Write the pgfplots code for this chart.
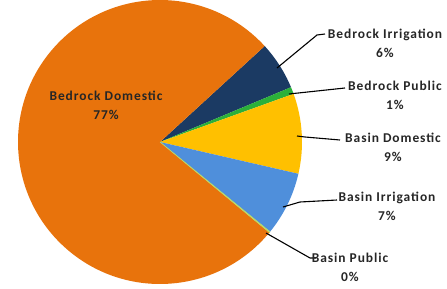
\documentclass[border=0pt]{standalone}
\usepackage{pgfplots}
\usepackage{pgfplotstable}
\pgfplotsset{compat=1.18}
\usepackage{fontspec}
\setmainfont{Carlito}
\newfontfamily\labfont[LetterSpace=7]{Carlito}
\definecolor{cOrange}{HTML}{E8730C}
\definecolor{cNavy}{HTML}{1B3A63}
\definecolor{cGreen}{HTML}{2BB03A}
\definecolor{cYellow}{HTML}{FFC000}
\definecolor{cBlue}{HTML}{4F8FDB}
\definecolor{cLime}{HTML}{B8D86A}
\definecolor{cText}{HTML}{262626}
\pgfplotstableread{
name value
BedrockIrrigation 5.5
BedrockPublic 0.8
BasinDomestic 9.1
BasinIrrigation 7.3
BasinPublic 0.1
BedrockDomestic 77.2
}\piedata
\begin{document}
\begin{tikzpicture}
\pgfplotstablegetelem{0}{value}\of\piedata \pgfmathsetmacro\vA{\pgfplotsretval}
\pgfplotstablegetelem{1}{value}\of\piedata \pgfmathsetmacro\vB{\pgfplotsretval}
\pgfplotstablegetelem{2}{value}\of\piedata \pgfmathsetmacro\vC{\pgfplotsretval}
\pgfplotstablegetelem{3}{value}\of\piedata \pgfmathsetmacro\vD{\pgfplotsretval}
\pgfplotstablegetelem{4}{value}\of\piedata \pgfmathsetmacro\vE{\pgfplotsretval}
\pgfplotstablegetelem{5}{value}\of\piedata \pgfmathsetmacro\vF{\pgfplotsretval}
\pgfmathsetmacro\aA{42.5}
\pgfmathsetmacro\aB{\aA-3.6*\vA}
\pgfmathsetmacro\aC{\aB-3.6*\vB}
\pgfmathsetmacro\aD{\aC-3.6*\vC}
\pgfmathsetmacro\aE{\aD-3.6*\vD}
\pgfmathsetmacro\aF{\aE-3.6*\vE}
\pgfmathsetmacro\aG{\aF-3.6*\vF}
\begin{axis}[
  name=ax,
  width=447bp, height=289bp, scale only axis,
  xmin=0, xmax=447, ymin=0, ymax=289,
  hide axis, clip=false,
]
\def\R{142bp}
\fill[cNavy] (axis cs:160,147) -- ++(\aA:\R) arc[start angle=\aA, end angle=\aB, radius=\R] -- cycle;
\fill[cGreen] (axis cs:160,147) -- ++(\aB:\R) arc[start angle=\aB, end angle=\aC, radius=\R] -- cycle;
\fill[cYellow] (axis cs:160,147) -- ++(\aC:\R) arc[start angle=\aC, end angle=\aD, radius=\R] -- cycle;
\fill[cBlue] (axis cs:160,147) -- ++(\aD:\R) arc[start angle=\aD, end angle=\aE, radius=\R] -- cycle;
\fill[cOrange] (axis cs:160,147) -- ++(\aF:\R) arc[start angle=\aF, end angle=\aG, radius=\R] -- cycle;
\filldraw[cLime, line width=0.6pt] (axis cs:160,147) -- ++(\aE:\R) arc[start angle=\aE, end angle=\aF, radius=\R] -- cycle;
% leader lines
\draw[black, line width=1.1pt] (axis cs:277,221) -- (axis cs:317,254) -- (axis cs:325,255);
\draw[black, line width=1.1pt] (axis cs:289,195) -- (axis cs:345,201);
\draw[black, line width=1.1pt] (axis cs:297,153) -- (axis cs:305,152) -- (axis cs:340,149);
\draw[black, line width=1.1pt] (axis cs:283,82) -- (axis cs:300,87) -- (axis cs:337,89);
\draw[black, line width=1.1pt] (axis cs:266,56) -- (axis cs:310,31) -- (axis cs:316,31);
% labels
\tikzset{lab/.style={align=center, text=cText, font=\labfont\fontsize{13.5}{19}\selectfont\bfseries, inner sep=0pt}}
\node[lab] at (axis cs:385,246) {Bedrock Irrigation\\6\%};
\node[lab] at (axis cs:395,194) {Bedrock Public\\1\%};
\node[lab] at (axis cs:393,142) {Basin Domestic\\9\%};
\node[lab] at (axis cs:387,83) {Basin Irrigation\\7\%};
\node[lab] at (axis cs:350,22) {Basin Public\\0\%};
\node[lab] at (axis cs:106,184) {Bedrock Domestic\\77\%};
\end{axis}
\pgfresetboundingbox
\useasboundingbox (ax.south west) rectangle (ax.north east);
\end{tikzpicture}
\end{document}
